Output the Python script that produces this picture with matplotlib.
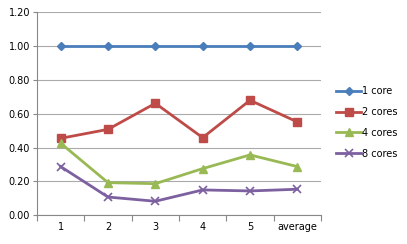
import matplotlib
matplotlib.use("Agg")
import matplotlib.pyplot as plt
import numpy as np

categories = ["1", "2", "3", "4", "5", "average"]
core1 = [1.00, 1.00, 1.00, 1.00, 1.00, 1.00]
core2 = [0.455, 0.508, 0.662, 0.459, 0.680, 0.552]
core4 = [0.426, 0.193, 0.187, 0.276, 0.357, 0.288]
core8 = [0.288, 0.108, 0.083, 0.150, 0.144, 0.154]
series_names = ["1 core", "2 cores", "4 cores", "8 cores"]
yticks = [0.0, 0.2, 0.4, 0.6, 0.8, 1.0, 1.2]

fig = plt.figure(figsize=(4.07, 2.44), dpi=100)
ax = fig.add_axes([37/407, (244-215.3)/244, (321-37)/407, (215.3-12.3)/244])

x = np.arange(len(categories))
styles = [
    (core1, "#4A7EBB", "D", 4.5),
    (core2, "#BE4B48", "s", 6),
    (core4, "#98B954", "^", 6),
    (core8, "#7D60A0", "x", 6),
]
for (vals, col, mk, ms), name in zip(styles, series_names):
    kw = dict(markeredgewidth=1.2) if mk == "x" else dict(markeredgecolor=col)
    ax.plot(x, vals, color=col, lw=2, marker=mk, ms=ms, label=name, **kw)

ax.set_xlim(-0.5, len(categories) - 0.5)
ax.set_ylim(0, 1.2)
ax.set_yticks(yticks)
ax.set_yticklabels([f"{v:.2f}" for v in yticks], fontsize=7)
ax.set_xticks(x)
ax.set_xticklabels(categories, fontsize=7)
ax.set_xticks(np.arange(-0.5, len(categories)), minor=True)
ax.tick_params(axis="x", which="major", length=0, pad=5)
ax.tick_params(axis="x", which="minor", length=4, color="#888888", width=0.8, direction="out")
ax.tick_params(axis="y", length=3, color="#888888", width=0.8, direction="out", pad=2)
ax.grid(axis="y", color="#AAAAAA", lw=0.8)
ax.set_axisbelow(True)
for s in ["top", "right"]:
    ax.spines[s].set_visible(False)
for s in ["left", "bottom"]:
    ax.spines[s].set_color("#888888")
    ax.spines[s].set_linewidth(0.8)

leg = ax.legend(loc="upper left", bbox_to_anchor=(336/407, 1 - 86.5/244), bbox_transform=fig.transFigure,
                frameon=False, fontsize=7, handlelength=2.6, handletextpad=0.1,
                labelspacing=1.1, borderaxespad=0, borderpad=0)

fig.savefig("out.png", dpi=100)
